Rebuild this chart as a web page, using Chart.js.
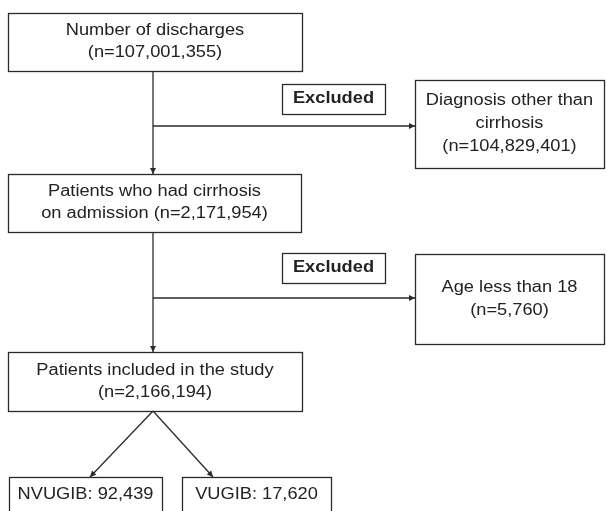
<!DOCTYPE html>
<html>
<head>
<meta charset="utf-8">
<script src="https://cdn.jsdelivr.net/npm/chart.js@4"></script>
<style>
  html, body { margin: 0; padding: 0; background: #fff; }
  canvas { display: block; }
</style>
</head>
<body>
<canvas id="flow" width="607" height="511"></canvas>
<script>
// flow steps and counts
const stepLines = [
  ['Number of discharges', '(n={n})'],
  ['Patients who had cirrhosis', 'on admission (n={n})'],
  ['Patients included in the study', '(n={n})']
]
const stepCounts = [107001355, 2171954, 2166194]
const exclusionLines = [
  ['Diagnosis other than', 'cirrhosis', '(n={n})'],
  ['Age less than 18', '(n={n})']
]
const exclusionCounts = [104829401, 5760]
const excludedTag = 'Excluded'
const groupNames = ['NVUGIB', 'VUGIB']
const groupCounts = [92439, 17620]

// layout, in the 607 x 511 frame used as axis units
const stepBoxes = [[8, 13, 302, 71], [8, 174, 301, 232], [8, 352, 302, 411]]
const tagBoxes = [[282, 84, 385, 114], [282, 253, 385, 283]]
const exclusionBoxes = [[415, 80, 604, 168], [415, 254, 604, 344]]
const groupBoxes = [[9, 477, 162, 525], [182, 477, 331, 525]]
const groupArrowX = [90, 213]
const spineX = 153
const branchY = [126, 298]

const ink = '#2b2b2b'
const fmt = n => n.toLocaleString('en-US')

// connectors: [from, to]
const connectors = []
for (let i = 0; i < 2; i++) {
  connectors.push([{ x: spineX, y: stepBoxes[i][3] }, { x: spineX, y: stepBoxes[i + 1][1] }])
  connectors.push([{ x: spineX, y: branchY[i] }, { x: exclusionBoxes[i][0], y: branchY[i] }])
}
groupArrowX.forEach((gx, i) => {
  connectors.push([{ x: spineX, y: stepBoxes[2][3] }, { x: gx, y: groupBoxes[i][1] }])
})

function drawText(ctx, text, cx, cy, bold) {
  ctx.save()
  ctx.translate(cx, cy)
  ctx.scale(1.14, 1)
  ctx.font = (bold ? 'bold ' : '') + '16px "Liberation Sans", Arial, sans-serif'
  ctx.fillStyle = '#222'
  ctx.textAlign = 'center'
  ctx.textBaseline = 'middle'
  ctx.fillText(text, 0, 0)
  ctx.restore()
}

const flowPlugin = {
  id: 'flow',
  afterDatasetsDraw(chart) {
    const { ctx, scales } = chart
    const px = v => scales.x.getPixelForValue(v)
    const py = v => scales.y.getPixelForValue(v)

    const box = (b, lines, bold, lineGap = 22.5, centerY) => {
      const x0 = px(b[0]), y0 = py(b[1]), x1 = px(b[2]), y1 = py(b[3])
      ctx.save()
      ctx.strokeStyle = ink
      ctx.lineWidth = 1.3
      ctx.strokeRect(Math.round(x0) + 0.5, Math.round(y0) + 0.5, Math.round(x1 - x0), Math.round(y1 - y0))
      ctx.restore()
      const cx = (x0 + x1) / 2
      const cy = centerY !== undefined ? py(centerY) : (y0 + y1) / 2
      lines.forEach((t, k) => {
        drawText(ctx, t, cx, cy + (k - (lines.length - 1) / 2) * lineGap, bold)
      })
    }

    stepBoxes.forEach((b, i) => {
      box(b, stepLines[i].map(t => t.replace('{n}', fmt(stepCounts[i]))), false, 22)
    })
    tagBoxes.forEach(b => box(b, [excludedTag], true))
    exclusionBoxes.forEach((b, i) => {
      box(b, exclusionLines[i].map(t => t.replace('{n}', fmt(exclusionCounts[i]))), false, 23)
    })
    groupBoxes.forEach((b, i) => {
      box(b, [groupNames[i] + ': ' + fmt(groupCounts[i])], false, 22, 495)
    })

    // arrow heads
    ctx.save()
    ctx.fillStyle = ink
    connectors.forEach(([a, b]) => {
      const ax = px(a.x), ay = py(a.y), bx = px(b.x), by = py(b.y)
      const ang = Math.atan2(by - ay, bx - ax)
      const len = 6, half = 3
      ctx.beginPath()
      ctx.moveTo(bx, by)
      ctx.lineTo(bx - len * Math.cos(ang) + half * Math.sin(ang), by - len * Math.sin(ang) - half * Math.cos(ang))
      ctx.lineTo(bx - len * Math.cos(ang) - half * Math.sin(ang), by - len * Math.sin(ang) + half * Math.cos(ang))
      ctx.closePath()
      ctx.fill()
    })
    ctx.restore()
  }
}

new Chart(document.getElementById('flow'), {
  type: 'scatter',
  data: {
    datasets: connectors.map(seg => ({
      data: seg,
      showLine: true,
      borderColor: ink,
      borderWidth: 1.3,
      pointRadius: 0,
      fill: false
    }))
  },
  options: {
    responsive: false,
    animation: false,
    events: [],
    layout: { padding: 0 },
    scales: {
      x: { type: 'linear', min: 0, max: 607, display: false },
      y: { type: 'linear', min: 0, max: 511, reverse: true, display: false }
    },
    plugins: {
      legend: { display: false },
      tooltip: { enabled: false }
    }
  },
  plugins: [flowPlugin]
})
</script>
</body>
</html>
